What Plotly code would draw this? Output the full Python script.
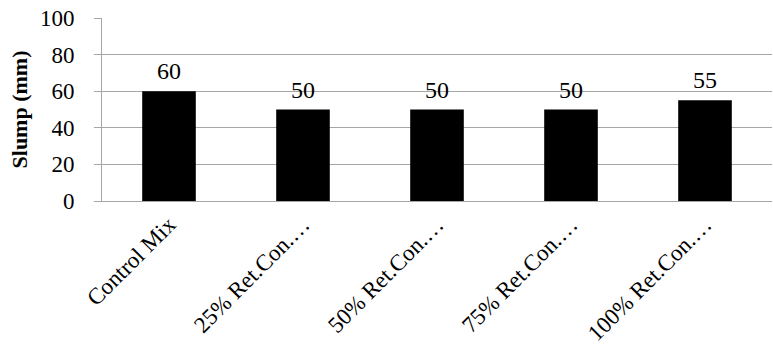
import plotly.graph_objects as go

categories = ["Control Mix", "25% Ret.Con.…", "50% Ret.Con.…", "75% Ret.Con.…", "100% Ret.Con.…"]
slump_mm = [60, 50, 50, 50, 55]
y_ticks = [0, 20, 40, 60, 80, 100]

FONT = "Liberation Serif, Times New Roman, serif"
GRID = "#a6a6a6"

fig = go.Figure(
    go.Bar(
        x=categories,
        y=slump_mm,
        marker=dict(color="black", line=dict(width=0)),
        width=0.4,
        hoverinfo="x+y",
    )
)

# value labels above each bar
for cat, val in zip(categories, slump_mm):
    fig.add_annotation(
        x=cat,
        y=val,
        text=str(val),
        showarrow=False,
        yanchor="bottom",
        yshift=5,
        font=dict(family=FONT, size=24, color="black"),
    )

fig.update_layout(
    width=773,
    height=348,
    margin=dict(l=102, r=1, t=18, b=147),
    paper_bgcolor="white",
    plot_bgcolor="white",
    showlegend=False,
    font=dict(family=FONT, size=20, color="black"),
)

fig.update_xaxes(
    tickangle=-45,
    showline=True,
    linecolor=GRID,
    linewidth=1,
    ticks="",
    ticklabelstandoff=0,
    showgrid=False,
    automargin=False,
    tickfont=dict(family=FONT, size=23, color="black"),
)

fig.update_yaxes(
    range=[0, 100],
    tickvals=y_ticks,
    showline=True,
    linecolor=GRID,
    linewidth=1,
    ticks="outside",
    ticklen=7,
    tickcolor=GRID,
    ticklabelstandoff=15,
    showgrid=True,
    gridcolor=GRID,
    gridwidth=1,
    zeroline=False,
    automargin=False,
    tickfont=dict(family=FONT, size=23, color="black"),
    title=dict(text="<b>Slump (mm)</b>", font=dict(family=FONT, size=22, color="black"), standoff=6),
)

fig.write_html("out.html")
